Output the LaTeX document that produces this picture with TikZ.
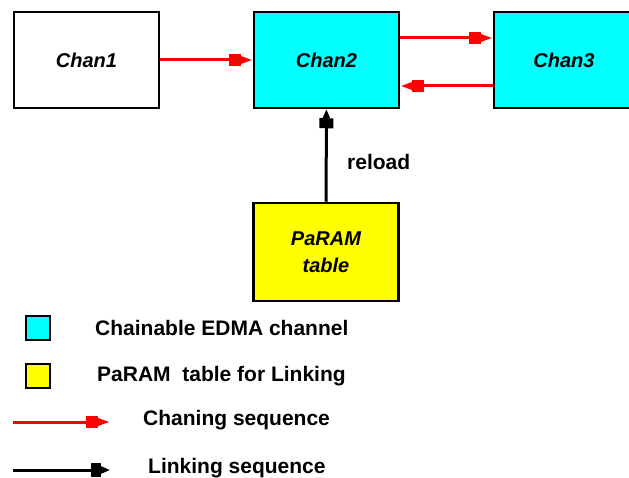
\documentclass[tikz,border=0pt]{standalone}
\usepackage{fontspec}
\setmainfont{Liberation Sans}
\usetikzlibrary{arrows.meta}
\definecolor{chancyan}{RGB}{0,255,255}
\definecolor{paryellow}{RGB}{255,255,0}
\definecolor{seqred}{RGB}{255,0,0}

\begin{document}
\begin{tikzpicture}[x=1pt,y=-1pt,
    chanbox/.style={draw, line width=2.5pt, minimum width=145pt, minimum height=96pt, inner sep=0pt, align=center, font=\fontsize{20}{27}\selectfont\bfseries\itshape},
    keybox/.style={draw, line width=2pt, minimum size=24pt, inner sep=0pt},
    keytext/.style={anchor=west, inner sep=0pt, font=\fontsize{21}{22}\selectfont\bfseries},
    chainarrow/.style={seqred, line width=3pt, -{Rectangle[length=12pt,width=12pt,sep=0pt]Triangle[length=12pt,width=7pt]}},
    linkarrow/.style={black, line width=3pt, -{Rectangle[length=10pt,width=14pt,sep=0pt]Triangle[length=9pt,width=7pt]}}]
  \useasboundingbox (0,0) rectangle (629,478);
  % channels
  \node[chanbox, fill=white] (c1) at (86.5,60) {Chan1};
  \node[chanbox, fill=chancyan] (c2) at (326.5,60) {Chan2};
  \node[chanbox, fill=chancyan, minimum width=150pt, text width=136pt] (c3) at (569,60) {\hspace*{-10pt}Chan3};
  \node[chanbox, fill=paryellow, minimum height=98pt] (pt) at (326,252) {PaRAM\\table};
  \node[keytext] (rl) at (347,162) {reload};
  % connections
  \draw[chainarrow] (c1) -- (c2);
  \draw[chainarrow] ([yshift=22pt]c2.east) -- ([yshift=22pt]c3.west);
  \draw[chainarrow] ([yshift=-26pt]c3.west) -- ([yshift=-26pt]c2.east);
  \draw[linkarrow] (pt) -- (c2);
  % legend
  \node[keybox, fill=chancyan] (k1) at (38,328) {};
  \node[keybox, fill=paryellow] (k2) at (38,376) {};
  \node[keytext] (t1) at (95,328) {Chainable EDMA channel};
  \node[keytext] (t2) at (97,376) {PaRAM~ table for Linking};
  \coordinate (r0) at (13,422);
  \coordinate (r1) at (110,422);
  \draw[chainarrow] (r0) -- (r1);
  \node[keytext] (t3) at (143,420) {Chaning sequence};
  \coordinate (b0) at (13,470);
  \coordinate (b1) at (110,470);
  \draw[linkarrow] (b0) -- (b1);
  \node[keytext] (t4) at (148,468) {Linking sequence};
\end{tikzpicture}
\end{document}
